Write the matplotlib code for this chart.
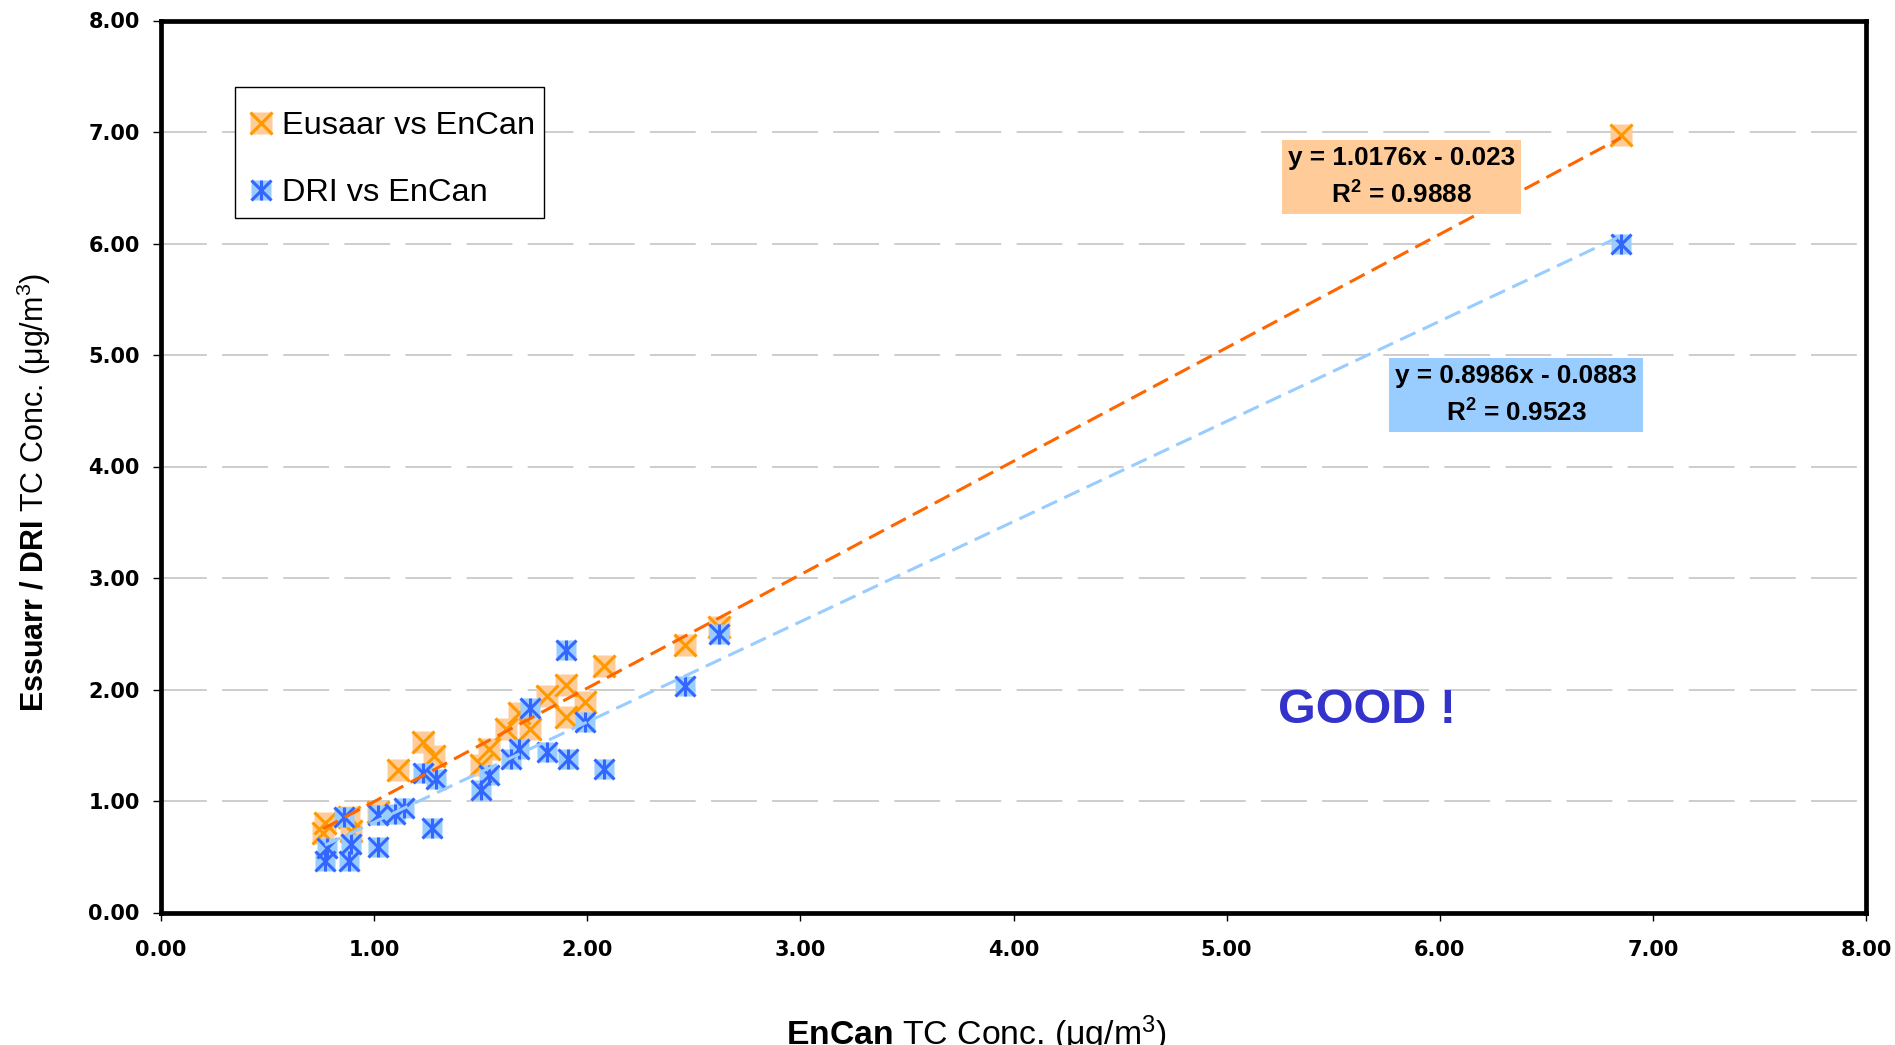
import numpy as np
import matplotlib
matplotlib.use("Agg")
import matplotlib.pyplot as plt
from matplotlib.lines import Line2D
from matplotlib.patches import Rectangle

plt.rcParams['font.family'] = ['Liberation Sans', 'DejaVu Sans']
plt.rcParams['mathtext.fontset'] = 'custom'
plt.rcParams['mathtext.rm'] = 'Liberation Sans'
plt.rcParams['mathtext.bf'] = 'Liberation Sans:bold'
plt.rcParams['mathtext.it'] = 'Liberation Sans:italic'

# ---- data ----
eusaar_x = [0.77, 0.76, 0.88, 0.89, 1.02, 1.11, 1.23, 1.28, 1.50, 1.54, 1.62,
            1.68, 1.73, 1.81, 1.90, 1.90, 1.99, 2.08, 2.46, 2.62, 6.85]
eusaar_y = [0.80, 0.71, 0.86, 0.73, 0.90, 1.28, 1.53, 1.40, 1.32, 1.47, 1.65,
            1.79, 1.65, 1.94, 2.04, 1.75, 1.89, 2.21, 2.40, 2.56, 6.97]

dri_x = [0.86, 0.78, 0.77, 0.89, 0.88, 1.02, 1.02, 1.10, 1.14, 1.27, 1.23, 1.29,
         1.50, 1.54, 1.64, 1.68, 1.73, 1.81, 1.91, 1.90, 1.99, 2.08, 2.46, 2.62, 6.85]
dri_y = [0.86, 0.58, 0.46, 0.61, 0.46, 0.59, 0.87, 0.88, 0.94, 0.76, 1.25, 1.20,
         1.10, 1.23, 1.38, 1.47, 1.83, 1.44, 1.38, 2.35, 1.71, 1.29, 2.03, 2.50, 6.00]

eusaar_fit = (1.0176, -0.023)
dri_fit = (0.8986, -0.0883)
eusaar_label = "y = 1.0176x - 0.023\nR$^\\mathbf{2}$ = 0.9888"
dri_label = "y = 0.8986x - 0.0883\nR$^\\mathbf{2}$ = 0.9523"
series_names = ["Eusaar vs EnCan", "DRI vs EnCan"]

ticks = [0, 1, 2, 3, 4, 5, 6, 7, 8]
tick_labels = ["%.2f" % t for t in ticks]

# ---- figure ----
W, H = 1895, 1045
fig = plt.figure(figsize=(W / 100, H / 100), dpi=100)
ax = fig.add_axes([161 / W, 1 - 912.5 / H, 1705 / W, 892 / H])

ax.set_xlim(0, 8)
ax.set_ylim(0, 8)
ax.set_xticks(ticks)
ax.set_yticks(ticks)
ax.set_xticklabels(tick_labels, family='DejaVu Sans', fontweight='bold', fontsize=15)
ax.set_yticklabels(tick_labels, family='DejaVu Sans', fontweight='bold', fontsize=15)
ax.tick_params(axis='y', direction='out', length=5.8, width=1, pad=9.5)
ax.tick_params(axis='x', direction='out', length=5.8, width=1, pad=14)

for s in ax.spines.values():
    s.set_linewidth(3.4)
    s.set_color('black')

ax.set_axisbelow(True)
ax.yaxis.grid(True, color='#C0C0C0', lw=1.1, linestyle=(0, (30, 10)))

MS_O, MS_B = 16, 14
# markers
ax.plot(eusaar_x, eusaar_y, 's', ms=MS_O, mfc='#FFCC99', mec='none', zorder=3)
ax.plot(eusaar_x, eusaar_y, 'x', ms=MS_O, mew=2.2, color='#FF9900', zorder=3)
ax.plot(dri_x, dri_y, 's', ms=MS_B, mfc='#99CCFF', mec='none', zorder=4)
ax.plot(dri_x, dri_y, 'x', ms=MS_B, mew=2.2, color='#3366FF', zorder=4)
ax.plot(dri_x, dri_y, '|', ms=MS_B, mew=2.2, color='#3366FF', zorder=4)

# trend lines
xe = np.array([min(eusaar_x), max(eusaar_x)])
ax.plot(xe, eusaar_fit[0] * xe + eusaar_fit[1], color='#FF6600', lw=2.2,
        linestyle=(0, (5.5, 2.6)), zorder=5)
xd = np.array([min(dri_x), max(dri_x)])
ax.plot(xd, dri_fit[0] * xd + dri_fit[1], color='#99CCFF', lw=2.2,
        linestyle=(0, (5.5, 2.6)), zorder=5)

# equation boxes
ax.text(5.821, 6.596, eusaar_label, ha='center', va='center', fontsize=18.8,
        fontweight='bold', linespacing=1.5, zorder=6,
        bbox=dict(boxstyle='square,pad=0.22', fc='#FFCC99', ec='none'))
ax.text(6.358, 4.641, dri_label, ha='center', va='center', fontsize=18.8,
        fontweight='bold', linespacing=1.5, zorder=6,
        bbox=dict(boxstyle='square,pad=0.22', fc='#99CCFF', ec='none'))

ax.text(5.659, 1.697, "GOOD !", ha='center', va='baseline', fontsize=35,
        fontweight='bold', color='#3333CC', zorder=6)

# legend (frame drawn separately)
def ax_frac(px, py):
    return ((px - 161) / 1705, (912.5 - py) / 892)

x0, y0 = ax_frac(234.5, 217.5)
x1, y1 = ax_frac(544, 87)
ax.add_patch(Rectangle((x0, y0), x1 - x0, y1 - y0, transform=ax.transAxes,
                       fc='white', ec='black', lw=1.0, zorder=7))
h1 = (Line2D([], [], ls='none', marker='s', ms=MS_O, mfc='#FFCC99', mec='none'),
      Line2D([], [], ls='none', marker='x', ms=MS_O, mew=2.2, color='#FF9900'))
h2 = (Line2D([], [], ls='none', marker='s', ms=MS_B, mfc='#99CCFF', mec='none'),
      Line2D([], [], ls='none', marker='x', ms=MS_B, mew=2.2, color='#3366FF'),
      Line2D([], [], ls='none', marker='|', ms=MS_B, mew=2.2, color='#3366FF'))
leg = ax.legend([h1, h2], series_names,
                loc='upper left', bbox_to_anchor=ax_frac(246.6, 111),
                fontsize=23.4, frameon=False, borderaxespad=0, borderpad=0,
                handlelength=0.9, handletextpad=0.19, labelspacing=1.15)
leg.set_zorder(8)

# axis labels
fig.text(34 / W, 1 - 492 / H, r"$\mathbf{Essuarr\ /\ DRI}$ TC Conc. (μg/m$^3$)",
         rotation=90, ha='center', va='center', fontsize=22)
fig.text(976.6 / W, 0.0, r"$\mathbf{EnCan}$ TC Conc. (μg/m$^3$)",
         ha='center', va='baseline', fontsize=24.3)

fig.savefig("out.png", dpi=100)
